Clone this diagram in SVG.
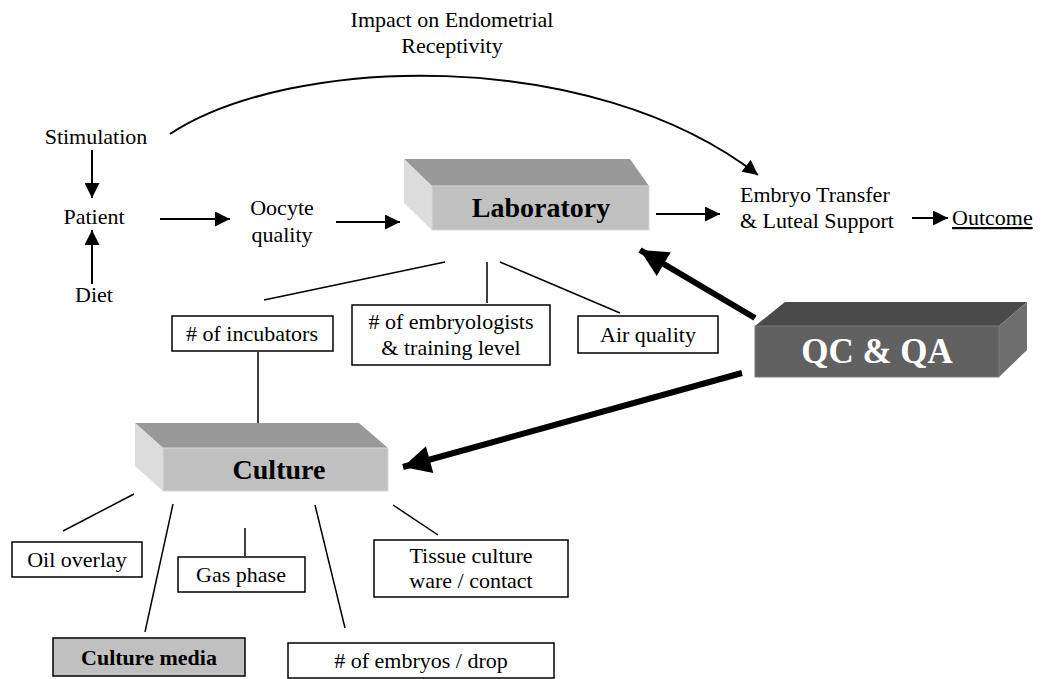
<svg xmlns="http://www.w3.org/2000/svg" width="1045" height="679" viewBox="0 0 1045 679">
<style>
text{font-family:"Liberation Serif","Times New Roman",serif;fill:#000;}
.t{font-size:22px;}
.c{text-anchor:middle;}
.b{font-weight:bold;}
.box{fill:#fff;stroke:#000;stroke-width:1.5;}
.ln{stroke:#000;stroke-width:1.5;fill:none;}
.ar{stroke:#000;stroke-width:2;fill:none;marker-end:url(#ah);}
.thick{stroke:#000;stroke-width:6;fill:none;marker-end:url(#bh);}
</style>
<defs>
<marker id="ah" viewBox="0 0 10 10" refX="10" refY="5" markerWidth="8" markerHeight="7.5" markerUnits="strokeWidth" orient="auto"><path d="M0,0L10,5L0,10Z" fill="#000"/></marker>
<marker id="bh" viewBox="0 0 10 10" refX="10" refY="5" markerWidth="5.2" markerHeight="4.6" markerUnits="strokeWidth" orient="auto"><path d="M0,0L10,5L0,10Z" fill="#000"/></marker>
</defs>
<g id="connectors">
<path class="ar" d="M170,134 C290,55 590,45 758,175"/>
<line class="ar" x1="92" y1="150" x2="92" y2="198"/>
<line class="ar" x1="92" y1="284" x2="92" y2="230"/>
<line class="ar" x1="160" y1="219" x2="230" y2="219"/>
<line class="ar" x1="336" y1="222" x2="400" y2="222"/>
<line class="ar" x1="656" y1="214" x2="720" y2="214"/>
<line class="ar" x1="912" y1="218" x2="948" y2="218"/>
<line class="ln" x1="445" y1="262" x2="264" y2="300"/>
<line class="ln" x1="487" y1="262" x2="487" y2="303"/>
<line class="ln" x1="500" y1="262" x2="620" y2="313"/>
<line class="ln" x1="258" y1="352" x2="258" y2="425"/>
<line class="thick" x1="755" y1="318" x2="640" y2="250"/>
<line class="thick" x1="742" y1="373" x2="403" y2="467"/>
<line class="ln" x1="134" y1="494" x2="63" y2="531"/>
<line class="ln" x1="173" y1="504" x2="145" y2="632"/>
<line class="ln" x1="245" y1="528" x2="245" y2="556"/>
<line class="ln" x1="315" y1="505" x2="345" y2="628"/>
<line class="ln" x1="393" y1="505" x2="438" y2="535"/>
</g>
<g id="impact"><text class="t c" x="452" y="27">Impact on Endometrial</text><text class="t c" x="452" y="53">Receptivity</text></g>
<g id="stimulation"><text class="t c" x="96" y="144" font-size="23">Stimulation</text></g>
<g id="patient"><text class="t c" x="94" y="224" font-size="23">Patient</text></g>
<g id="diet"><text class="t c" x="94" y="302" font-size="23">Diet</text></g>
<g id="oocyte"><text class="t c" x="282" y="215">Oocyte</text><text class="t c" x="282" y="242">quality</text></g>
<g id="laboratory">
<polygon points="404,159 630,159 649,186 432,186" fill="#999999"/>
<polygon points="404,159 432,186 432,230 404,203" fill="#dcdcdc"/>
<rect x="432" y="186" width="217" height="44" fill="#c0c0c0" stroke="#d8d8d8" stroke-width="1"/>
<text class="c b" x="541" y="217" font-size="28">Laboratory</text>
</g>
<g id="embryo-transfer"><text class="t" x="740" y="202">Embryo Transfer</text><text class="t" x="740" y="228">&amp; Luteal Support</text></g>
<g id="outcome"><text class="t" x="952" y="225" font-size="23" text-decoration="underline">Outcome</text></g>
<g id="incubators"><rect class="box" x="172" y="316" width="161" height="35"/><text class="t c" x="252" y="341"># of incubators</text></g>
<g id="embryologists"><rect class="box" x="352" y="305" width="198" height="60"/><text class="t c" x="451" y="329"># of embryologists</text><text class="t c" x="451" y="355">&amp; training level</text></g>
<g id="air-quality"><rect class="box" x="578" y="316" width="140" height="37"/><text class="t c" x="648" y="342">Air quality</text></g>
<g id="qcqa">
<polygon points="755,326 785,302 1027,302 999,326" fill="#4a4a4a"/>
<polygon points="999,326 1027,302 1027,350 999,377" fill="#6e6e6e"/>
<rect x="755" y="326" width="244" height="51" fill="#616161" stroke="#7a7a7a" stroke-width="1"/>
<text class="c b" x="877" y="363" font-size="35" style="fill:#fff">QC &amp; QA</text>
</g>
<g id="culture">
<polygon points="135,423 359,423 388,448 163,448" fill="#999999"/>
<polygon points="135,423 163,448 163,491 135,466" fill="#dcdcdc"/>
<rect x="163" y="448" width="225" height="43" fill="#c0c0c0" stroke="#d8d8d8" stroke-width="1"/>
<text class="c b" x="279" y="479" font-size="28">Culture</text>
</g>
<g id="oil-overlay"><rect class="box" x="12" y="542" width="130" height="35"/><text class="t c" x="77" y="567">Oil overlay</text></g>
<g id="gas-phase"><rect class="box" x="178" y="557" width="127" height="35"/><text class="t c" x="241" y="582">Gas phase</text></g>
<g id="tissue-culture"><rect class="box" x="374" y="540" width="194" height="57"/><text class="t c" x="471" y="563">Tissue culture</text><text class="t c" x="471" y="588">ware / contact</text></g>
<g id="culture-media"><rect x="53" y="638" width="192" height="38" fill="#c0c0c0" stroke="#000" stroke-width="1.5"/><text class="t c b" x="149" y="665" font-size="23">Culture media</text></g>
<g id="embryos-drop"><rect class="box" x="288" y="643" width="266" height="35"/><text class="t c" x="421" y="668"># of embryos / drop</text></g>
</svg>
